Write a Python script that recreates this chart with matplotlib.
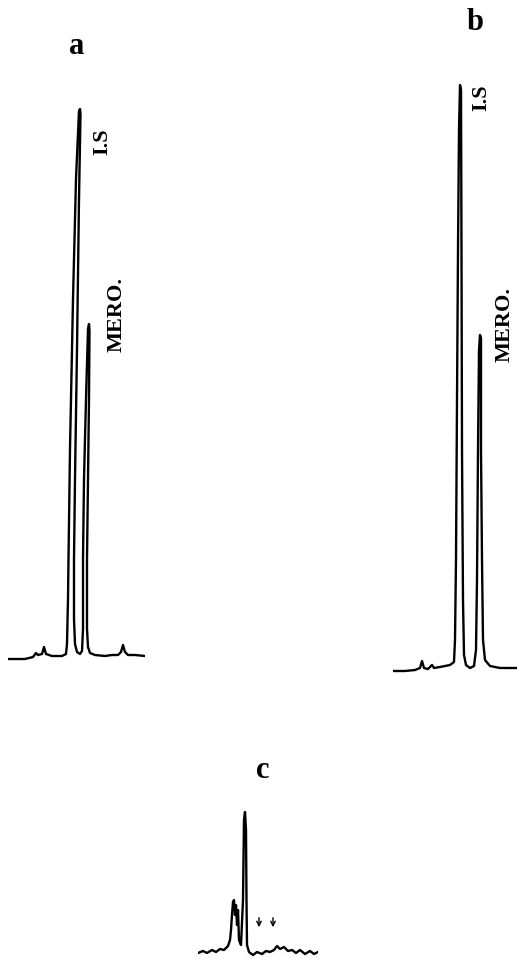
"""
Chromatograms of meropenem (MERO.) with internal standard (I.S)
Panels a, b and c as in the reference figure.
"""
import matplotlib
matplotlib.use("Agg")
import matplotlib.pyplot as plt

W_PX, H_PX = 517, 959
DPI = 100

# --- panel a: retention time (min) and detector response (a.u.)
time_a = [0.0, 1.7, 2.5, 2.8, 3.0, 3.4, 3.6, 3.8, 4.4, 5.4, 5.8, 5.9, 6.0, 6.05,
          6.2, 6.5, 6.8, 7.1, 7.2, 7.25, 7.1, 6.9, 6.7, 6.6, 6.6, 6.7, 6.9, 7.2,
          7.4, 7.5, 7.5, 7.6, 7.8, 8.0, 8.1, 8.15, 8.1, 8.0, 7.9, 7.9, 8.0, 8.2,
          8.7, 9.7, 10.4, 11.0, 11.3, 11.5, 11.7, 12.0, 12.7, 13.7]
resp_a = [0, 0, 2, 6, 4, 5, 12, 5, 3, 3, 5, 15, 60, 100,
          210, 360, 480, 548, 550, 545, 460, 310, 180, 100, 40, 15, 7, 5,
          8, 30, 100, 180, 260, 330, 335, 328, 260, 180, 100, 30, 12, 6,
          4, 3, 4, 4, 7, 14, 7, 4, 4, 3]

# --- panel b
time_b = [0.0, 1.2, 2.2, 2.7, 2.9, 3.1, 3.5, 3.9, 4.1, 4.7, 5.7, 6.1, 6.2, 6.3,
          6.4, 6.5, 6.6, 6.7, 6.8, 6.85, 6.9, 7.0, 7.1, 7.3, 7.7, 8.1, 8.3, 8.4,
          8.5, 8.6, 8.7, 8.8, 8.8, 8.9, 9.0, 9.2, 9.7, 10.7, 11.7, 12.4]
resp_b = [-1, -1, 0, 2, 9, 2, 1, 5, 2, 3, 5, 8, 30, 110,
          270, 420, 540, 585, 580, 420, 220, 70, 15, 5, 2, 4, 20, 90,
          220, 320, 335, 332, 220, 110, 30, 10, 4, 2, 2, 2]

# --- panel c
time_c = [0.0, 0.5, 0.9, 1.4, 1.8, 2.2, 2.6, 3.0, 3.2, 3.3, 3.4, 3.5, 3.6, 3.7,
          3.8, 3.9, 4.0, 4.1, 4.3, 4.5, 4.6, 4.7, 4.8, 4.85, 4.9, 5.1, 5.5, 5.9,
          6.4, 6.8, 7.2, 7.6, 7.9, 8.2, 8.6, 9.0, 9.4, 9.8, 10.2, 10.7, 11.2,
          11.6, 12.0]
resp_c = [-1, 1, -1, 2, 0, 3, 2, 6, 12, 22, 37, 50, 52, 37,
          47, 27, 42, 12, 7, 52, 132, 140, 122, 52, 7, 0, -3, 0,
          -2, 1, 0, 2, 6, 3, 5, 1, 2, -1, 2, -2, 1,
          -2, 0]
arrow_times_c = [6.1, 7.5]

LABEL_FONT = dict(family="Liberation Serif", weight="bold")


def add_panel(fig, x0_px, base_px, xlim, ylim):
    # axes placed so that 0.1 min and 1 response unit are one pixel each
    left = (x0_px + xlim[0] * 10) / W_PX
    width = (xlim[1] - xlim[0]) * 10 / W_PX
    bottom = (H_PX - (base_px - ylim[0])) / H_PX
    height = (ylim[1] - ylim[0]) / H_PX
    ax = fig.add_axes([left, bottom, width, height])
    ax.set_xlim(*xlim)
    ax.set_ylim(*ylim)
    ax.axis("off")
    return ax


fig = plt.figure(figsize=(W_PX / DPI, H_PX / DPI), dpi=DPI)

# panel a
ax_a = add_panel(fig, 8, 659, (0, 13.7), (-10, 560))
ax_a.plot(time_a, resp_a, color="black", lw=1.7, solid_joinstyle="round")
ax_a.text(6.9, 612, "a", fontsize=22, ha="center", va="center", **LABEL_FONT)
ax_a.text(9.4, 517, "I.S", fontsize=16, rotation=90, ha="center", va="center", **LABEL_FONT)
ax_a.text(10.9, 345, "MERO.", fontsize=16, rotation=90, ha="center", va="center", **LABEL_FONT)

# panel b
ax_b = add_panel(fig, 393, 670, (0, 12.4), (-10, 610))
ax_b.plot(time_b, resp_b, color="black", lw=1.7, solid_joinstyle="round")
ax_b.text(8.2, 648, "b", fontsize=22, ha="center", va="center", **LABEL_FONT)
ax_b.text(8.8, 572, "I.S", fontsize=16, rotation=90, ha="center", va="center", **LABEL_FONT)
ax_b.text(11.2, 345, "MERO.", fontsize=16, rotation=90, ha="center", va="center", **LABEL_FONT)

# panel c
ax_c = add_panel(fig, 198, 952, (0, 12.0), (-10, 152))
ax_c.plot(time_c, resp_c, color="black", lw=1.7, solid_joinstyle="round")
ax_c.text(6.5, 182, "c", fontsize=22, ha="center", va="center", **LABEL_FONT)
for t in arrow_times_c:
    ax_c.annotate("", xy=(t, 22), xytext=(t, 37),
                  arrowprops=dict(arrowstyle="->", lw=1.0, color="black",
                                  mutation_scale=8))

fig.savefig("out.png", dpi=DPI, facecolor="white")
